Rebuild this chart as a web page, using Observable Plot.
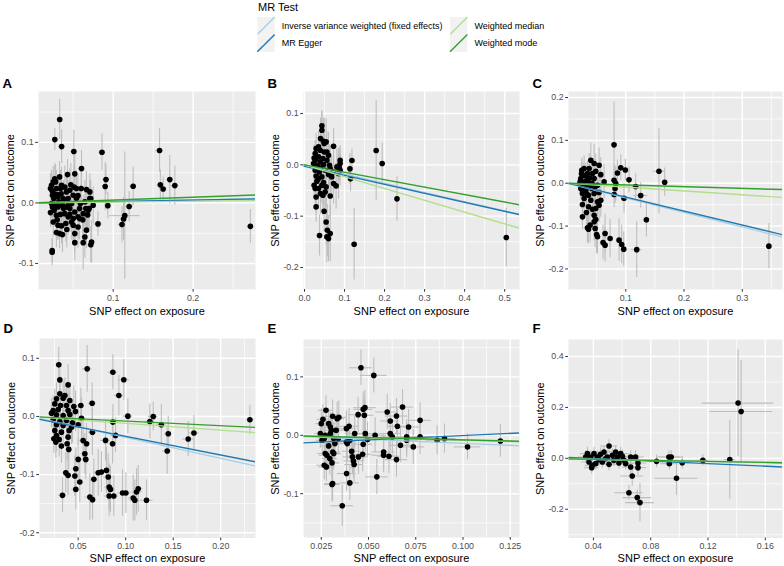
<!DOCTYPE html>
<html><head><meta charset="utf-8">
<script src="https://cdn.jsdelivr.net/npm/d3@7"></script>
<script src="https://cdn.jsdelivr.net/npm/@observablehq/plot@0.6"></script>
<style>
body{margin:0;background:#fff;font-family:"Liberation Sans",Arial,sans-serif;}
#chart{position:relative;width:784px;height:566px;overflow:hidden;background:#fff;}
</style></head><body><div id="chart"></div>
<script>
// ---------- legend / methods ----------
const legendTitle = "MR Test";
const methods = ["Inverse variance weighted (fixed effects)", "MR Egger", "Weighted median", "Weighted mode"];
const methodColors = ["#a6cee3", "#1f78b4", "#b2df8a", "#33a02c"];
const xTitle = "SNP effect on exposure";
const yTitle = "SNP effect on outcome";

// ---------- panel A ----------
const snpsA = [
 [0.0237,-0.0816,0.002,0.022],[0.0237,-0.0785,0.002,0.020],[0.0270,0.1046,0.003,0.018],[0.0331,0.1377,0.003,0.033],
 [0.0355,0.0930,0.004,0.028],[0.0508,0.0850,0.004,0.035],[0.0860,0.0837,0.004,0.030],[0.1580,0.0865,0.005,0.036],
 [0.1590,0.0298,0.004,0.025],[0.1625,0.0230,0.005,0.020],[0.1708,0.0385,0.004,0.040],[0.1771,0.0286,0.005,0.032],
 [0.2716,-0.0387,0.004,0.028],[0.0910,0.0385,0.004,0.025],[0.0900,0.0270,0.003,0.040],[0.0933,-0.0045,0.004,0.022],
 [0.0810,-0.0347,0.005,0.020],[0.1110,-0.0358,0.005,0.030],[0.1130,-0.0265,0.004,0.035],[0.1145,-0.0210,0.019,0.105],
 [0.1200,-0.0060,0.005,0.025],[0.1250,0.0275,0.004,0.032],[0.0604,0.0567,0.004,0.030],[0.0429,0.0468,0.003,0.025],
 [0.0520,0.0480,0.003,0.030],
 [0.0229,0.029,0.002,0.025],[0.027,0.040,0.002,0.025],[0.029,0.0237,0.002,0.030],[0.024,0.0127,0.002,0.025],
 [0.0258,0.0072,0.002,0.030],[0.031,0.010,0.003,0.030],[0.034,0.0237,0.003,0.030],[0.0395,0.026,0.003,0.035],
 [0.0416,0.0182,0.003,0.030],[0.0458,0.021,0.003,0.035],[0.0512,0.026,0.003,0.035],[0.054,0.0237,0.003,0.030],
 [0.060,0.0237,0.004,0.035],[0.0666,0.022,0.004,0.030],[0.0708,0.0182,0.004,0.030],[0.0229,-0.001,0.002,0.025],
 [0.027,-0.0039,0.002,0.030],[0.031,-0.0066,0.003,0.030],[0.0366,-0.0039,0.003,0.035],[0.0416,-0.0066,0.003,0.030],
 [0.048,-0.001,0.003,0.035],[0.054,0.0072,0.003,0.035],[0.059,-0.001,0.004,0.030],[0.0646,0.0017,0.004,0.035],
 [0.072,0.0072,0.004,0.030],[0.075,-0.0039,0.004,0.030],[0.070,-0.0094,0.004,0.035],[0.029,-0.0204,0.002,0.030],
 [0.034,-0.019,0.003,0.030],[0.0395,-0.0177,0.003,0.035],[0.0458,-0.019,0.003,0.030],[0.050,-0.0259,0.003,0.035],
 [0.056,-0.023,0.004,0.035],[0.0625,-0.0177,0.004,0.030],[0.0687,-0.012,0.004,0.035],[0.031,-0.0369,0.003,0.025],
 [0.0354,-0.038,0.003,0.030],[0.0408,-0.034,0.003,0.030],[0.048,-0.0314,0.003,0.030],[0.056,-0.0397,0.004,0.035],
 [0.029,-0.049,0.002,0.025],[0.033,-0.0507,0.003,0.025],[0.0366,-0.0523,0.003,0.030],[0.050,-0.0369,0.003,0.030],
 [0.052,-0.0507,0.003,0.030],[0.0666,-0.045,0.004,0.030],[0.0646,-0.0562,0.004,0.035],[0.052,-0.0656,0.003,0.030],
 [0.0625,-0.0656,0.004,0.045],[0.073,-0.0645,0.004,0.035],[0.072,-0.069,0.004,0.030],[0.058,-0.0259,0.004,0.035],
 [0.0437,-0.023,0.003,0.030],[0.025,-0.0314,0.002,0.025],[0.0216,-0.016,0.002,0.025],[0.024,-0.0066,0.002,0.025],
 [0.0658,-0.0094,0.004,0.030],[0.0708,0.0072,0.004,0.030],[0.0216,0.0237,0.002,0.025],[0.028,0.0347,0.002,0.028],
 [0.033,0.043,0.003,0.025],[0.0375,0.0072,0.003,0.030],[0.0437,0.0072,0.003,0.030],[0.050,0.0127,0.003,0.035],
 [0.032,0.0017,0.003,0.030],[0.038,-0.0094,0.003,0.030],[0.0458,-0.0094,0.003,0.035],[0.052,-0.0149,0.003,0.035],
 [0.058,-0.0094,0.004,0.035],[0.0258,0.0155,0.002,0.025],[0.030,0.0138,0.002,0.030],[0.0354,0.029,0.003,0.030],
 [0.0236,0.0200,0.002,0.025],[0.0262,-0.0120,0.002,0.028],[0.0300,-0.0280,0.002,0.030],[0.0350,0.0150,0.003,0.030],
 [0.0380,0.0040,0.003,0.030],[0.0440,-0.0030,0.003,0.032],[0.0470,0.0300,0.003,0.035],[0.0560,0.0120,0.004,0.035],
 [0.0620,-0.0280,0.004,0.035],[0.0680,-0.0200,0.004,0.030],[0.0420,-0.0440,0.003,0.030],[0.0250,0.0350,0.002,0.025]
];
const xDomainA = [0.0066, 0.278], yDomainA = [-0.143, 0.184];
const xTicksA = [0.1, 0.2], xMinorA = [0.05, 0.15, 0.25];
const yTicksA = [-0.1, 0, 0.1], yMinorA = [-0.05, 0.05, 0.15];
const interceptsA = [0, -0.0002, 0, 0], slopesA = [0.023, 0.0245, 0.0137, 0.047];

// ---------- panel B ----------
const snpsB = [
 [0.179,0.0279,0.006,0.097],[0.194,0.0025,0.004,0.040],[0.231,-0.0663,0.005,0.043],[0.504,-0.1417,0.004,0.057],
 [0.124,-0.1547,0.006,0.070],[0.1185,0.0084,0.004,0.022],[0.1135,-0.0078,0.004,0.030],[0.115,-0.0273,0.004,0.025],
 [0.0375,-0.1378,0.003,0.040],
 [0.0434,0.076,0.003,0.030],[0.0434,0.0675,0.003,0.035],[0.040,0.0512,0.003,0.040],[0.0476,0.046,0.003,0.045],
 [0.054,0.0447,0.003,0.045],[0.049,0.0415,0.003,0.050],[0.0726,0.0362,0.003,0.035],[0.029,0.0317,0.002,0.030],
 [0.0392,0.0285,0.003,0.035],[0.0267,0.022,0.002,0.025],[0.049,0.0252,0.003,0.040],[0.035,0.0155,0.002,0.030],
 [0.046,0.0122,0.003,0.040],[0.060,0.0187,0.003,0.045],[0.0267,0.009,0.002,0.025],[0.0392,0.0057,0.003,0.030],
 [0.0559,0.009,0.003,0.040],[0.0226,0.0025,0.002,0.020],[0.032,-0.002,0.002,0.030],[0.0476,0.0005,0.003,0.035],
 [0.089,0.009,0.004,0.028],[0.089,0.0025,0.004,0.030],[0.087,-0.006,0.004,0.025],[0.0267,-0.0105,0.002,0.025],
 [0.037,-0.0138,0.003,0.035],[0.0517,-0.0105,0.003,0.040],[0.0642,-0.0073,0.003,0.045],[0.029,-0.0216,0.002,0.030],
 [0.0434,-0.0235,0.003,0.040],[0.060,-0.019,0.003,0.045],[0.0726,-0.0138,0.003,0.040],[0.085,-0.017,0.004,0.050],
 [0.0309,-0.032,0.002,0.030],[0.0476,-0.0346,0.003,0.045],[0.0726,-0.0365,0.003,0.040],[0.079,-0.041,0.004,0.045],
 [0.0267,-0.0463,0.002,0.030],[0.035,-0.0463,0.003,0.035],[0.0517,-0.0528,0.003,0.040],[0.040,-0.056,0.003,0.040],
 [0.0642,-0.0606,0.003,0.045],[0.029,-0.0626,0.002,0.030],[0.046,-0.0593,0.003,0.040],[0.029,-0.082,0.002,0.030],
 [0.049,-0.0905,0.003,0.040],[0.054,-0.1113,0.003,0.045],[0.057,-0.1276,0.003,0.050],[0.0642,-0.134,0.003,0.055],
 [0.0559,-0.1405,0.003,0.050],[0.060,-0.1438,0.003,0.045],[0.024,0.0135,0.002,0.025],[0.035,0.035,0.002,0.030],
 [0.0559,0.0252,0.003,0.040],[0.040,-0.006,0.003,0.030],[0.029,-0.004,0.002,0.025],[0.0625,-0.0008,0.003,0.040],
 [0.068,-0.0235,0.003,0.040],[0.035,-0.0268,0.002,0.030],[0.054,-0.043,0.003,0.040],[0.024,-0.0398,0.002,0.025],
 [0.0434,-0.0398,0.003,0.035],[0.089,-0.0105,0.004,0.030],[0.081,-0.004,0.004,0.035]
];
const xDomainB = [-0.0025, 0.537], yDomainB = [-0.243, 0.143];
const xTicksB = [0, 0.1, 0.2, 0.3, 0.4, 0.5], xMinorB = [0.05, 0.15, 0.25, 0.35, 0.45];
const yTicksB = [-0.2, -0.1, 0, 0.1], yMinorB = [-0.15, -0.05, 0.05];
const interceptsB = [0, -0.003, 0, 0], slopesB = [-0.180, -0.175, -0.230, -0.145];

// ---------- panel C ----------
const snpsC = [
 [0.0799,0.0895,0.004,0.100],[0.157,0.028,0.010,0.099],[0.1668,0.0023,0.004,0.033],[0.3456,-0.1468,0.004,0.053],
 [0.1188,-0.155,0.009,0.065],[0.1354,-0.0853,0.004,0.040],[0.1256,-0.0287,0.012,0.030],[0.117,-0.0077,0.005,0.030],
 [0.1056,0.0079,0.005,0.030],[0.0993,0.031,0.004,0.025],[0.0914,0.0359,0.004,0.030],[0.0857,0.024,0.004,0.030],
 [0.097,-0.035,0.004,0.035],
 [0.040,0.0537,0.003,0.040],[0.0457,0.046,0.003,0.045],[0.0542,0.042,0.003,0.040],[0.0285,0.0342,0.002,0.030],
 [0.0371,0.0342,0.003,0.035],[0.0245,0.030,0.002,0.028],[0.0485,0.028,0.003,0.040],[0.0428,0.0226,0.003,0.035],
 [0.0314,0.017,0.002,0.030],[0.0571,0.020,0.003,0.040],[0.0228,0.0109,0.002,0.025],[0.0628,0.0031,0.003,0.040],
 [0.0342,0.007,0.002,0.030],[0.0457,0.0109,0.003,0.035],[0.021,-0.0008,0.002,0.025],[0.0285,-0.0046,0.002,0.030],
 [0.040,-0.0008,0.003,0.035],[0.0514,-0.0046,0.003,0.040],[0.0799,0.007,0.004,0.035],[0.0828,-0.0008,0.004,0.040],
 [0.0816,-0.0124,0.004,0.035],[0.080,-0.0264,0.004,0.030],[0.0228,-0.0124,0.002,0.025],[0.0314,-0.0163,0.002,0.030],
 [0.0416,-0.0124,0.003,0.035],[0.0257,-0.0241,0.002,0.028],[0.036,-0.028,0.003,0.035],[0.0457,-0.0241,0.003,0.035],
 [0.0542,-0.0218,0.003,0.040],[0.0285,-0.0357,0.002,0.030],[0.040,-0.0396,0.003,0.035],[0.0514,-0.0435,0.003,0.040],
 [0.0257,-0.0497,0.002,0.030],[0.0571,-0.0396,0.003,0.040],[0.036,-0.0551,0.003,0.035],[0.0485,-0.059,0.003,0.040],
 [0.0428,-0.0606,0.003,0.040],[0.0325,-0.0684,0.002,0.030],[0.0542,-0.0513,0.003,0.040],[0.0257,-0.0785,0.002,0.030],
 [0.0457,-0.0746,0.003,0.040],[0.0485,-0.0847,0.003,0.040],[0.0457,-0.0901,0.003,0.045],[0.0342,-0.1041,0.002,0.035],
 [0.036,-0.1072,0.003,0.035],[0.0474,-0.1056,0.003,0.045],[0.050,-0.1196,0.003,0.045],[0.0645,-0.1173,0.003,0.045],
 [0.061,-0.1383,0.003,0.040],[0.0645,-0.1445,0.003,0.040],[0.0731,-0.129,0.003,0.045],[0.0885,-0.1329,0.004,0.050],
 [0.093,-0.143,0.004,0.045],[0.0965,-0.1538,0.004,0.040],[0.0514,-0.125,0.003,0.040],[0.0388,-0.0979,0.003,0.040],
 [0.0268,0.0187,0.002,0.028],[0.0342,0.0226,0.002,0.030],[0.0371,-0.0046,0.003,0.030],[0.0302,0.0031,0.002,0.028],
 [0.0474,-0.0085,0.003,0.035],[0.0240,0.0220,0.002,0.028],[0.0330,-0.0250,0.002,0.030],[0.0420,0.0000,0.003,0.032],
 [0.0220,0.0050,0.002,0.025],[0.0300,-0.0080,0.002,0.030],[0.0380,0.0120,0.003,0.032],[0.0260,-0.0160,0.002,0.028]
];
const xDomainC = [0.0017, 0.369], yDomainC = [-0.248, 0.214];
const xTicksC = [0.1, 0.2, 0.3], xMinorC = [0.05, 0.15, 0.25, 0.35];
const yTicksC = [-0.2, -0.1, 0, 0.1, 0.2], yMinorC = [-0.15, -0.05, 0.05, 0.15];
const interceptsC = [0, 0.0001, 0, 0], slopesC = [-0.340, -0.326, -0.090, -0.040];

// ---------- panel D ----------
const snpsD = [
 [0.0296,0.0887,0.003,0.030],[0.0595,0.0818,0.005,0.040],[0.0865,0.076,0.005,0.030],[0.098,0.063,0.006,0.035],
 [0.0928,0.036,0.005,0.035],[0.0647,0.0228,0.004,0.035],[0.1023,0.0005,0.005,0.030],[0.129,0.000,0.005,0.025],
 [0.1254,-0.0086,0.005,0.030],[0.1375,-0.0143,0.005,0.035],[0.1448,-0.0297,0.004,0.030],[0.1437,-0.0595,0.005,0.040],
 [0.1658,-0.0389,0.006,0.030],[0.1718,-0.0286,0.005,0.030],[0.2307,-0.0057,0.004,0.025],[0.0865,-0.0097,0.004,0.030],
 [0.0893,-0.0326,0.005,0.030],[0.0862,-0.0469,0.004,0.035],[0.0788,-0.0412,0.005,0.035],[0.0528,0.0189,0.004,0.030],
 [0.0307,0.0628,0.003,0.030],[0.0394,0.0542,0.003,0.035],[0.0307,0.0388,0.003,0.030],[0.036,0.036,0.003,0.030],
 [0.0272,0.0302,0.002,0.028],[0.0342,0.0314,0.003,0.030],[0.0412,0.0274,0.003,0.030],[0.0254,0.0216,0.002,0.025],
 [0.0314,0.0188,0.003,0.028],[0.0377,0.0188,0.003,0.030],[0.0454,0.017,0.003,0.035],[0.0237,0.0102,0.002,0.025],
 [0.029,0.0119,0.002,0.028],[0.0394,0.0102,0.003,0.030],[0.0472,0.0085,0.003,0.035],[0.0219,0.0056,0.002,0.025],
 [0.0272,0.0027,0.002,0.028],[0.0342,0.0016,0.003,0.030],[0.0412,0.0033,0.003,0.030],[0.0237,-0.0052,0.002,0.025],
 [0.0307,-0.0087,0.003,0.028],[0.0377,-0.007,0.003,0.030],[0.044,-0.011,0.003,0.035],[0.0535,-0.003,0.004,0.035],
 [0.0272,-0.0144,0.002,0.028],[0.0342,-0.0155,0.003,0.030],[0.043,-0.0184,0.003,0.030],[0.050,-0.0144,0.004,0.035],
 [0.065,-0.027,0.004,0.040],[0.0254,-0.0241,0.002,0.025],[0.0324,-0.027,0.003,0.030],[0.0405,-0.0241,0.003,0.030],
 [0.0272,-0.0327,0.002,0.028],[0.0244,-0.0384,0.002,0.025],[0.030,-0.0396,0.003,0.030],[0.0265,-0.0441,0.002,0.028],
 [0.0394,-0.0356,0.003,0.030],[0.0324,-0.051,0.003,0.030],[0.0384,-0.047,0.003,0.030],[0.0401,-0.0567,0.003,0.035],
 [0.0552,-0.0413,0.004,0.035],[0.0588,-0.047,0.004,0.035],[0.057,-0.0642,0.004,0.035],[0.058,-0.0739,0.004,0.035],
 [0.050,-0.0739,0.004,0.035],[0.0475,-0.0899,0.004,0.035],[0.037,-0.0968,0.003,0.035],[0.0394,-0.1013,0.003,0.035],
 [0.0465,-0.1025,0.004,0.035],[0.0517,-0.1128,0.004,0.035],[0.0475,-0.1254,0.004,0.035],[0.0335,-0.1357,0.004,0.030],
 [0.0623,-0.1385,0.005,0.040],[0.0651,-0.1431,0.004,0.035],[0.0665,-0.1082,0.004,0.035],[0.0711,-0.0968,0.005,0.040],
 [0.0745,-0.0956,0.005,0.035],[0.0798,-0.0928,0.005,0.040],[0.0816,-0.1042,0.005,0.040],[0.0826,-0.1213,0.005,0.040],
 [0.084,-0.1254,0.005,0.040],[0.0826,-0.1368,0.005,0.035],[0.0875,-0.1368,0.005,0.035],[0.0967,-0.1317,0.005,0.040],
 [0.1002,-0.1317,0.005,0.035],[0.1079,-0.1402,0.005,0.040],[0.1096,-0.1442,0.005,0.035],[0.1114,-0.1300,0.006,0.040],
 [0.1132,-0.1242,0.005,0.040],[0.1219,-0.1442,0.007,0.035]
];
const xDomainD = [0.0093, 0.2366], yDomainD = [-0.209, 0.134];
const xTicksD = [0.05, 0.10, 0.15, 0.20], xMinorD = [0.025, 0.075, 0.125, 0.175, 0.225];
const yTicksD = [-0.2, -0.1, 0, 0.1], yMinorD = [-0.15, -0.05, 0.05];
const interceptsD = [0, -0.002, 0, 0], slopesD = [-0.360, -0.321, -0.118, -0.080];

// ---------- panel E ----------
const snpsE = [
 [0.046,0.1156,0.006,0.030],[0.0528,0.1025,0.007,0.030],[0.0481,0.0473,0.006,0.030],[0.0472,0.0444,0.005,0.030],
 [0.0680,0.0484,0.006,0.030],[0.0478,0.0342,0.005,0.030],[0.0445,0.0353,0.005,0.030],[0.0648,0.033,0.006,0.030],
 [0.0773,0.0256,0.006,0.030],[0.0599,0.0399,0.006,0.030],[0.0615,0.0245,0.005,0.030],[0.0712,0.0142,0.006,0.030],
 [0.0653,0.0154,0.005,0.030],[0.0397,0.0154,0.005,0.030],[0.0383,0.0114,0.005,0.030],[0.0343,0.0307,0.004,0.028],
 [0.0334,0.0285,0.004,0.028],[0.031,0.0325,0.004,0.028],[0.0275,0.0427,0.004,0.025],[0.025,0.0199,0.003,0.025],
 [0.0259,0.0273,0.003,0.025],[0.0289,0.0199,0.004,0.025],[0.0298,0.0142,0.004,0.025],[0.0304,0.0085,0.004,0.025],
 [0.0329,0.0085,0.004,0.028],[0.0245,0.0028,0.003,0.025],[0.0271,0.0,0.003,0.025],[0.0266,-0.0057,0.003,0.025],
 [0.0254,-0.0085,0.003,0.025],[0.0298,0.0028,0.004,0.025],[0.0316,-0.0057,0.004,0.028],[0.0322,-0.0142,0.004,0.028],
 [0.034,-0.0057,0.004,0.028],[0.0383,-0.0114,0.005,0.030],[0.0388,-0.0142,0.005,0.030],[0.0401,-0.0085,0.005,0.030],
 [0.0427,0.0028,0.005,0.030],[0.0483,0.0028,0.006,0.030],[0.0535,0.0,0.006,0.030],[0.0495,-0.0074,0.006,0.030],
 [0.0472,-0.0154,0.005,0.030],[0.0615,0.0028,0.006,0.030],[0.0626,-0.0028,0.006,0.030],[0.058,-0.0285,0.006,0.030],
 [0.058,-0.0342,0.006,0.030],[0.0608,-0.0359,0.006,0.030],[0.0648,-0.0416,0.006,0.030],[0.0669,-0.0171,0.006,0.030],
 [0.0702,-0.0028,0.006,0.030],[0.0702,-0.0085,0.006,0.030],[0.0737,-0.0199,0.006,0.030],[0.0773,-0.0028,0.007,0.030],
 [0.0863,-0.0085,0.006,0.025],[0.0902,-0.0057,0.006,0.025],[0.1024,-0.0199,0.007,0.022],[0.1198,-0.0097,0.006,0.028],
 [0.0289,-0.0182,0.004,0.025],[0.0271,-0.0313,0.004,0.025],[0.028,-0.0342,0.004,0.025],[0.0295,-0.0399,0.004,0.028],
 [0.0307,-0.0473,0.004,0.028],[0.0266,-0.0512,0.004,0.025],[0.0277,-0.0541,0.004,0.025],[0.0311,-0.0285,0.004,0.028],
 [0.0316,-0.0313,0.004,0.028],[0.0411,-0.0273,0.005,0.030],[0.0415,-0.037,0.005,0.030],[0.042,-0.0439,0.005,0.030],
 [0.0424,-0.0501,0.005,0.030],[0.0447,-0.037,0.005,0.030],[0.0469,-0.0325,0.005,0.030],[0.0384,-0.0655,0.005,0.030],
 [0.0307,-0.0843,0.004,0.030],[0.031,-0.0826,0.004,0.030],[0.0401,-0.0815,0.005,0.030],[0.0544,-0.0712,0.006,0.030],
 [0.0361,-0.1207,0.006,0.035]
];
const xDomainE = [0.0156, 0.1299], yDomainE = [-0.175, 0.164];
const xTicksE = [0.025, 0.050, 0.075, 0.100, 0.125], xMinorE = [0.0375, 0.0625, 0.0875, 0.1125];
const yTicksE = [-0.1, 0, 0.1], yMinorE = [-0.15, -0.05, 0.05, 0.15];
const interceptsE = [0, -0.0153, 0, 0], slopesE = [-0.138, 0.149, -0.085, -0.079];

// ---------- panel F ----------
const snpsF = [
 [0.141,0.217,0.025,0.21],[0.1431,0.1843,0.022,0.20],[0.1352,-0.005,0.004,0.155],[0.1164,-0.008,0.004,0.022],
 [0.098,-0.0784,0.015,0.067],[0.102,-0.017,0.006,0.025],[0.0927,0.0052,0.008,0.025],[0.0943,0.0052,0.008,0.025],
 [0.093,-0.0209,0.006,0.025],[0.0841,-0.0118,0.005,0.025],[0.0648,-0.135,0.010,0.030],[0.0706,-0.1543,0.010,0.030],
 [0.0725,-0.1739,0.010,0.075],[0.0671,-0.0693,0.008,0.040],[0.066,-0.034,0.006,0.030],[0.066,0.0052,0.006,0.025],
 [0.0694,0.0052,0.006,0.025],[0.0711,-0.0183,0.006,0.030],[0.0711,-0.0366,0.006,0.030],[0.0509,0.0484,0.006,0.025],
 [0.0555,0.0249,0.006,0.025],[0.059,0.0184,0.006,0.025],[0.0602,0.0079,0.006,0.025],[0.0474,0.0249,0.006,0.025],
 [0.045,0.0158,0.005,0.025],[0.0427,0.0052,0.005,0.025],[0.0404,0.0184,0.005,0.025],[0.0381,0.0052,0.005,0.025],
 [0.0358,0.0184,0.005,0.025],[0.0369,-0.0144,0.005,0.025],[0.0392,-0.0275,0.005,0.025],[0.0388,-0.0366,0.005,0.025],
 [0.0416,-0.0209,0.005,0.025],[0.0462,-0.0144,0.005,0.025],[0.0485,-0.0013,0.005,0.025],[0.0509,-0.0235,0.005,0.025],
 [0.0543,-0.0078,0.005,0.025],[0.0567,0.0052,0.006,0.025],[0.0578,-0.0183,0.006,0.025],[0.0613,-0.0078,0.006,0.025],
 [0.0625,-0.0209,0.006,0.025],[0.0346,0.0052,0.005,0.025],[0.0439,-0.0052,0.005,0.025],[0.0497,0.0052,0.005,0.025],
 [0.0532,0.0118,0.005,0.025]
];
const xDomainF = [0.0226, 0.172], yDomainF = [-0.313, 0.467];
const xTicksF = [0.04, 0.08, 0.12, 0.16], xMinorF = [0.06, 0.10, 0.14];
const yTicksF = [-0.2, 0, 0.2, 0.4], yMinorF = [-0.3, -0.1, 0.1, 0.3];
const interceptsF = [0, 0.0097, 0, 0], slopesF = [-0.105, -0.254, -0.095, -0.100];

// ---------- layout (positions only) ----------
const FONT = "'Liberation Sans', Arial, Helvetica, sans-serif";
const panels = [
 {tag:"A", snps:snpsA, xDomain:xDomainA, yDomain:yDomainA, xTicks:xTicksA, xMinor:xMinorA, yTicks:yTicksA, yMinor:yMinorA, ints:interceptsA, slopes:slopesA, xDec:1, yDec:1,
  box:{left:0, top:68, width:260, height:252, mL:38, mR:5, mT:23, mB:31}, tagDy:-8, titleDy:21.5},
 {tag:"B", snps:snpsB, xDomain:xDomainB, yDomain:yDomainB, xTicks:xTicksB, xMinor:xMinorB, yTicks:yTicksB, yMinor:yMinorB, ints:interceptsB, slopes:slopesB, xDec:1, yDec:1,
  box:{left:260, top:68, width:262, height:252, mL:43, mR:3, mT:23, mB:31}, tagDy:-8, titleDy:21.5},
 {tag:"C", snps:snpsC, xDomain:xDomainC, yDomain:yDomainC, xTicks:xTicksC, xMinor:xMinorC, yTicks:yTicksC, yMinor:yMinorC, ints:interceptsC, slopes:slopesC, xDec:1, yDec:1,
  box:{left:522, top:68, width:262, height:252, mL:46, mR:2, mT:23, mB:31}, tagDy:-8, titleDy:21.5},
 {tag:"D", snps:snpsD, xDomain:xDomainD, yDomain:yDomainD, xTicks:xTicksD, xMinor:xMinorD, yTicks:yTicksD, yMinor:yMinorD, ints:interceptsD, slopes:slopesD, xDec:2, yDec:1,
  box:{left:0, top:316, width:260, height:250, mL:39, mR:5, mT:22, mB:28.5}, tagDy:-9.5, titleDy:20.5},
 {tag:"E", snps:snpsE, xDomain:xDomainE, yDomain:yDomainE, xTicks:xTicksE, xMinor:xMinorE, yTicks:yTicksE, yMinor:yMinorE, ints:interceptsE, slopes:slopesE, xDec:3, yDec:1,
  box:{left:260, top:316, width:262, height:250, mL:43, mR:3, mT:23, mB:29}, tagDy:-10.5, titleDy:20.5},
 {tag:"F", snps:snpsF, xDomain:xDomainF, yDomain:yDomainF, xTicks:xTicksF, xMinor:xMinorF, yTicks:yTicksF, yMinor:yMinorF, ints:interceptsF, slopes:slopesF, xDec:2, yDec:1,
  box:{left:522, top:316, width:262, height:250, mL:46, mR:2, mT:23, mB:28.5}, tagDy:-10.5, titleDy:20.5}
];

function fmt(dec) { return d => (d < -1e-9 ? "-" : "") + Math.abs(d).toFixed(dec); }

const chart = document.getElementById("chart");

for (const p of panels) {
  const [x0, x1] = p.xDomain;
  const lineRows = methods.map((m, i) => ({m, a: p.ints[i], b: p.slopes[i]}));
  const b = p.box;
  const svg = Plot.plot({
    width: b.width, height: b.height,
    marginLeft: b.mL, marginRight: b.mR, marginTop: b.mT, marginBottom: b.mB,
    x: {domain: p.xDomain},
    y: {domain: p.yDomain},
    color: {domain: methods, range: methodColors},
    style: {fontFamily: FONT, background: "transparent", overflow: "visible"},
    marks: [
      Plot.frame({fill: "#ebebeb", stroke: "none"}),
      Plot.gridX(p.xMinor, {stroke: "#ffffff", strokeOpacity: 1, strokeWidth: 0.7}),
      Plot.gridY(p.yMinor, {stroke: "#ffffff", strokeOpacity: 1, strokeWidth: 0.7}),
      Plot.gridX(p.xTicks, {stroke: "#ffffff", strokeOpacity: 1, strokeWidth: 1.4}),
      Plot.gridY(p.yTicks, {stroke: "#ffffff", strokeOpacity: 1, strokeWidth: 1.4}),
      Plot.ruleX(p.snps, {x: d => d[0], y1: d => d[1] - d[3], y2: d => d[1] + d[3], stroke: "#bebebe", strokeWidth: 1.1, clip: true}),
      Plot.ruleY(p.snps, {y: d => d[1], x1: d => d[0] - d[2], x2: d => d[0] + d[2], stroke: "#bebebe", strokeWidth: 1.1, clip: true}),
      Plot.dot(p.snps, {x: d => d[0], y: d => d[1], r: 2.8, fill: "#000000", stroke: "none", clip: true}),
      Plot.link(lineRows, {x1: () => x0, x2: () => x1, y1: d => d.a + d.b * x0, y2: d => d.a + d.b * x1, stroke: "m", strokeWidth: 1.4, clip: true}),
      Plot.axisX(p.xTicks, {tickSize: 2.75, tickPadding: 2.2, tickFormat: fmt(p.xDec), stroke: "#333333", fill: "#4d4d4d", fontSize: 8.8, label: null}),
      Plot.axisY(p.yTicks, {tickSize: 2.75, tickPadding: 2.2, tickFormat: fmt(p.yDec), stroke: "#333333", fill: "#4d4d4d", fontSize: 8.8, label: null}),
      Plot.text([xTitle], {frameAnchor: "bottom", dy: p.titleDy, textAnchor: "middle", lineAnchor: "middle", fontSize: 11, fill: "#000000"}),
      Plot.text([yTitle], {frameAnchor: "left", dx: -28, rotate: -90, textAnchor: "middle", lineAnchor: "middle", fontSize: 11, fill: "#000000"}),
      Plot.text([p.tag], {frameAnchor: "top-left", dx: -36, dy: p.tagDy, textAnchor: "start", lineAnchor: "middle", fontSize: 13.2, fontWeight: "bold", fill: "#000000"})
    ]
  });
  svg.style.position = "absolute";
  svg.style.left = b.left + "px";
  svg.style.top = b.top + "px";
  chart.appendChild(svg);
}

// ---------- legend ----------
const legendKeyX = [257.3, 450];
const keySize = 17.4;
const leg = d3.create("svg")
  .attr("width", 784).attr("height", 60)
  .style("position", "absolute").style("left", "0px").style("top", "0px")
  .style("font-family", FONT);
leg.append("text").attr("x", 258).attr("y", 7).attr("dominant-baseline", "central")
  .attr("font-size", 11).attr("fill", "#000").text(legendTitle);
methods.forEach((m, i) => {
  const col = Math.floor(i / 2), row = i % 2;
  const kx = legendKeyX[col], ky = 17 + row * keySize;
  leg.append("rect").attr("x", kx).attr("y", ky).attr("width", keySize).attr("height", keySize).attr("fill", "#f2f2f2");
  leg.append("line").attr("x1", kx).attr("y1", ky + keySize).attr("x2", kx + keySize).attr("y2", ky)
    .attr("stroke", methodColors[i]).attr("stroke-width", 1.4);
  leg.append("text").attr("x", kx + keySize + 7).attr("y", ky + keySize / 2).attr("dominant-baseline", "central")
    .attr("font-size", 9).attr("fill", "#000").text(m);
});
chart.appendChild(leg.node());
</script></body></html>
